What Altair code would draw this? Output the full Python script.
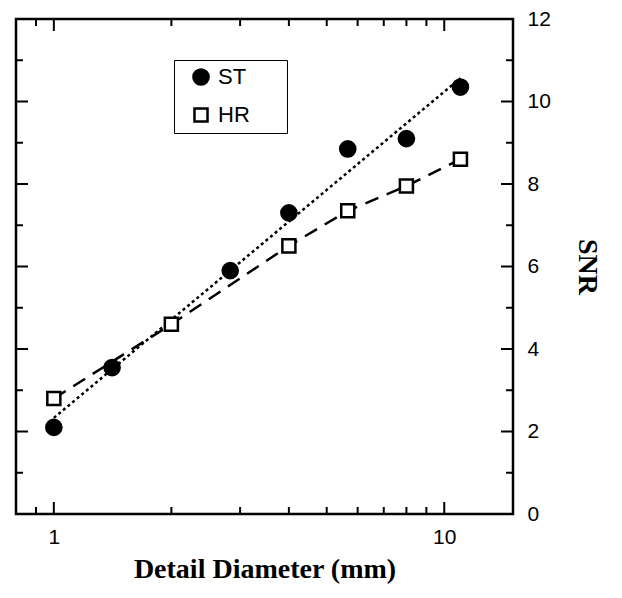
import altair as alt
import pandas as pd

# ---- data ----
st_x = [1, 1.41, 2.83, 4, 5.66, 8, 11]
st_y = [2.1, 3.55, 5.9, 7.3, 8.85, 9.1, 10.35]
hr_x = [1, 2, 4, 5.66, 8, 11]
hr_y = [2.8, 4.6, 6.5, 7.35, 7.95, 8.6]

x_major = [1, 10]
x_minor = [0.9, 2, 3, 4, 5, 6, 7, 8, 9]
y_major = [2, 4, 6, 8, 10]
y_minor = [1, 3, 5, 7, 9, 11]

W, H = 497, 495

st = pd.DataFrame({"x": st_x, "y": st_y, "series": "ST"})
hr = pd.DataFrame({"x": hr_x, "y": hr_y, "series": "HR"})
pts = pd.concat([st, hr], ignore_index=True)

xs = alt.Scale(type="log", domain=[0.8, 15], nice=False)
ys = alt.Scale(domain=[0, 12], nice=False, zero=False)

LBL = "Liberation Sans"
TTL = "Liberation Serif"

X_AX = alt.Axis(values=[1, 10], ticks=False, domain=False, grid=False,
                labelFont=LBL, labelFontSize=21, labelColor="black",
                labelPadding=12, labelFlush=False,
                title="Detail Diameter (mm)", titleFont=TTL, titleFontSize=28,
                titleFontWeight="bold", titleColor="black", titlePadding=8)
Y_AX = alt.Axis(orient="right", values=[0, 2, 4, 6, 8, 10, 12], ticks=False,
                domain=False, grid=False, labelFont=LBL, labelFontSize=21,
                labelColor="black", labelPadding=14, labelFlush=False,
                title="SNR", titleFont=TTL, titleFontSize=28, titleFontWeight="bold",
                titleColor="black", titleAngle=90, titlePadding=22)

dom = ["ST", "HR"]
pad_right = "\u00a0" * 5 + "\u200b"
leg = alt.Legend(title=None, orient="none", legendX=158, legendY=41,
                 strokeColor="black", padding=6, rowPadding=13,
                 symbolOffset=10, labelOffset=6,
                 labelFont=LBL, labelFontSize=22, labelColor="black",
                 symbolStrokeColor="black", symbolStrokeWidth=2.5,
                 labelExpr="datum.label + '" + pad_right + "'")

points = alt.Chart(pts).mark_point(filled=True, strokeWidth=2.5, opacity=1).encode(
    x=alt.X("x:Q", scale=xs, axis=X_AX),
    y=alt.Y("y:Q", scale=ys, axis=Y_AX),
    shape=alt.Shape("series:N", scale=alt.Scale(domain=dom, range=["circle", "square"]), legend=leg),
    fill=alt.Fill("series:N", scale=alt.Scale(domain=dom, range=["black", "white"]), legend=leg),
    stroke=alt.Stroke("series:N", scale=alt.Scale(domain=dom, range=["black", "black"]), legend=leg),
    size=alt.Size("series:N", scale=alt.Scale(domain=dom, range=[230, 170]), legend=leg),
)

st_fit = alt.Chart(st).transform_regression("x", "y", method="log", extent=[1, 11]).mark_line(
    color="black", strokeWidth=2.5, strokeDash=[3, 3]).encode(
    x=alt.X("x:Q", scale=xs, axis=X_AX), y=alt.Y("y:Q", scale=ys, axis=Y_AX))

hr_line = alt.Chart(hr).mark_line(color="black", strokeWidth=2.5, strokeDash=[14, 9]).encode(
    x=alt.X("x:Q", scale=xs, axis=X_AX), y=alt.Y("y:Q", scale=ys, axis=Y_AX))


def xticks(vals, L, top):
    y0, y1 = (0, L) if top else (H, H - L)
    return alt.Chart(pd.DataFrame({"x": vals})).mark_rule(color="black", strokeWidth=2).encode(
        x=alt.X("x:Q", scale=xs, axis=X_AX), y=alt.value(y0), y2=alt.value(y1))


def yticks(vals, L, right):
    x0, x1 = (W, W - L) if right else (0, L)
    return alt.Chart(pd.DataFrame({"y": vals})).mark_rule(color="black", strokeWidth=2).encode(
        y=alt.Y("y:Q", scale=ys, axis=Y_AX), x=alt.value(x0), x2=alt.value(x1))


ticks = [xticks(x_major, 12, False), xticks(x_minor, 7, False),
         xticks(x_major, 12, True), xticks(x_minor, 7, True),
         yticks(y_major, 12, True), yticks(y_minor, 7, True),
         yticks(y_major, 12, False), yticks(y_minor, 7, False)]

chart = alt.layer(st_fit, hr_line, *ticks, points).properties(
    width=W, height=H, background="white",
    padding={"left": 7, "top": 0, "right": 5, "bottom": 5}
).configure_view(stroke="black", strokeWidth=2.5)

chart.save("out.html", embed_options={"renderer": "svg", "actions": False})
